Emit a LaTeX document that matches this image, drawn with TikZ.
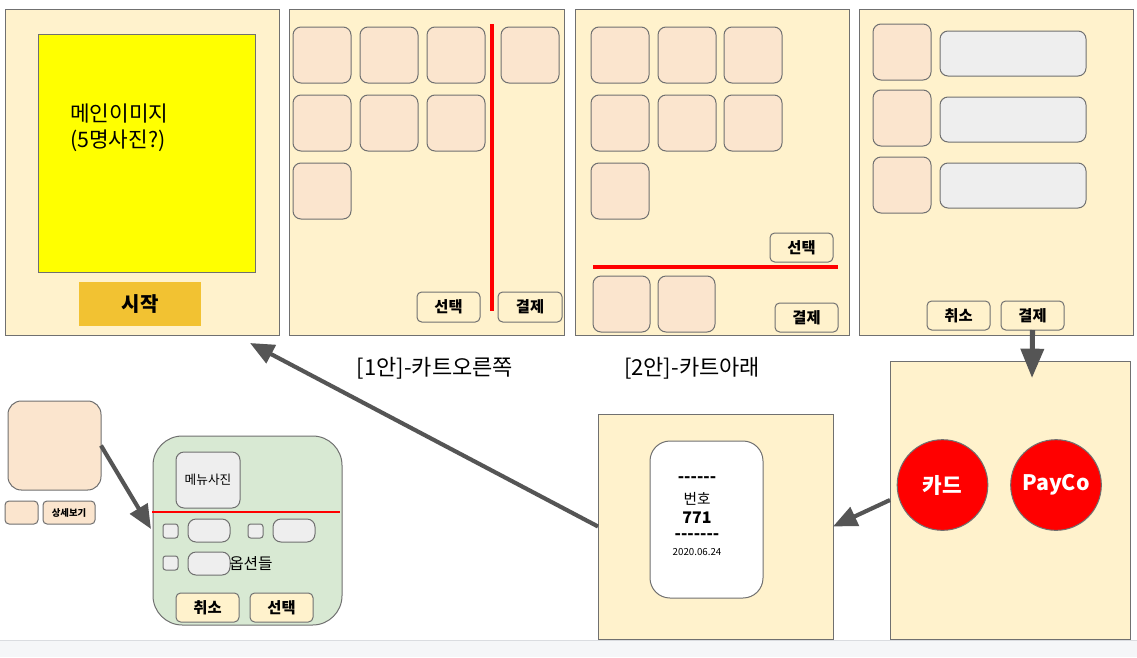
\documentclass[tikz,border=0pt]{standalone}
\usepackage{fontspec}
\setmainfont{Noto Sans CJK KR}
\usetikzlibrary{arrows.meta}
\definecolor{panel}{HTML}{FFF2CC}
\definecolor{tilef}{HTML}{FBE5CE}
\definecolor{graybox}{HTML}{EEEEEE}
\definecolor{edge}{HTML}{707070}
\definecolor{startc}{HTML}{F2C232}
\definecolor{greenp}{HTML}{D8E9D3}
\definecolor{arrc}{HTML}{555555}
\definecolor{strip}{HTML}{F5F6F8}
\definecolor{stripline}{HTML}{DADCE0}
\definecolor{pureyellow}{HTML}{FFFF00}
\newcommand\bx[7]{\node[#1,minimum width={((#4)-(#2))*0.75pt},minimum height={((#5)-(#3))*0.75pt}] (#6) at ({((#2)+(#4))/2},{((#3)+(#5))/2}) {#7};}
\tikzset{
  base/.style={inner sep=0pt,outer sep=0pt,line width=0.75pt},
  panelbox/.style={base,draw=edge,fill=panel},
  yellowbox/.style={base,draw=edge,fill=pureyellow},
  startbox/.style={base,fill=startc,font=\fontsize{15}{18}\selectfont\bfseries},
  tilebox/.style={base,draw=edge,fill=tilef,rounded corners=6pt},
  bigtile/.style={base,draw=edge,fill=tilef,rounded corners=10pt},
  btnbox/.style={base,draw=edge,fill=panel,rounded corners=3.5pt,font=\fontsize{11.5}{14}\selectfont\bfseries},
  barbox/.style={base,draw=edge,fill=graybox,rounded corners=6pt},
  chk/.style={base,draw=edge,fill=graybox,rounded corners=2pt},
  smalltile/.style={base,draw=edge,fill=tilef,rounded corners=3pt},
  greenbox/.style={base,draw=edge,fill=greenp,rounded corners=22pt},
  whitebox/.style={base,draw=edge,fill=white,rounded corners=15pt},
  circ/.style={base,circle,draw=edge,fill=red,text=white,minimum size=68pt,font=\fontsize{16}{19}\selectfont\bfseries},
  redline/.style={draw=red,line width=2.5pt},
  arr/.style={draw=arrc,line width=3.1pt,-{Triangle[length=18pt,width=15pt]}},
  lbl/.style={inner sep=0pt,font=\fontsize{16.5}{19}\selectfont},
}
\begin{document}
\begin{tikzpicture}[x=0.75pt,y=-0.75pt]
\useasboundingbox (0,0) rectangle (1137,657);
\fill[white] (0,0) rectangle (1137,657);
\fill[strip] (0,640) rectangle (1137,657);
\draw[stripline] (0,640.5) -- (1137,640.5);

% Panel 1
\bx{panelbox}{5}{9}{279}{335}{p1}{}
\bx{yellowbox}{38}{34}{255}{272}{mainimg}{}
\node[inner sep=0pt,anchor=west,align=left,font=\fontsize{16}{19.5}\selectfont] (maintxt) at (70,128) {메인이미지\\(5명사진?)};
\bx{startbox}{79}{282}{201}{326}{start}{시작}

% Panel 2
\bx{panelbox}{289}{9}{564}{335}{p2}{}
\foreach \c/\xa in {1/293,2/360,3/427}{
  \foreach \r/\ya in {1/27,2/95}{
    \bx{tilebox}{\xa}{\ya}{\xa+58}{\ya+56}{p2t\c\r}{}
  }
}
\bx{tilebox}{293}{163}{351}{219}{p2t13}{}
\bx{tilebox}{501}{27}{559}{83}{p2cart}{}
\draw[redline] (492,24) -- (492,311);
\bx{btnbox}{417}{292}{480}{322}{p2sel}{선택}
\bx{btnbox}{498}{292}{562}{322}{p2pay}{결제}
\node[lbl] (lab1) at (435,368) {[1안]-카트오른쪽};

% Panel 3
\bx{panelbox}{575}{9}{849}{335}{p3}{}
\foreach \c/\xa in {1/591,2/658,3/724}{
  \foreach \r/\ya in {1/27,2/95}{
    \bx{tilebox}{\xa}{\ya}{\xa+58}{\ya+56}{p3t\c\r}{}
  }
}
\bx{tilebox}{591}{163}{649}{219}{p3t13}{}
\bx{btnbox}{770}{233}{833}{262}{p3sel}{선택}
\draw[redline] (593,267) -- (838,267);
\bx{tilebox}{593}{276}{650}{332}{p3c1}{}
\bx{tilebox}{658}{276}{715}{332}{p3c2}{}
\bx{btnbox}{775}{303}{838}{332}{p3pay}{결제}
\node[lbl] (lab2) at (692,368) {[2안]-카트아래};

% Panel 4
\bx{panelbox}{859}{9}{1133}{335}{p4}{}
\foreach \r/\ya/\yb in {1/24/31,2/90/97,3/157/163}{
  \bx{tilebox}{873}{\ya}{931}{\ya+56}{p4t\r}{}
  \bx{barbox}{940}{\yb}{1086}{\yb+45}{p4b\r}{}
}
\bx{btnbox}{927}{301}{990}{330}{p4can}{취소}
\bx{btnbox}{1001}{301}{1064}{330}{p4pay}{결제}

% Payment panel
\bx{panelbox}{890}{361}{1130}{639}{pay}{}
\node[circ] (card) at (942.5,485) {카드};
\node[circ] (payco) at (1056,485) {PayCo};

% Receipt panel
\bx{panelbox}{598}{414}{833}{639}{rcpt}{}
\bx{whitebox}{650}{441}{763}{598}{ticket}{}
\node[inner sep=0pt,font=\fontsize{12.5}{13}\selectfont\bfseries] (d1) at (697,480) {-{}-{}-{}-{}-{}-};
\node[inner sep=0pt,font=\fontsize{11}{13}\selectfont] (num) at (697,499) {번호};
\node[inner sep=0pt,font=\fontsize{12}{14}\selectfont\bfseries] (n771) at (697,518) {771};
\node[inner sep=0pt,font=\fontsize{12.5}{13}\selectfont\bfseries] (d2) at (697,537) {-{}-{}-{}-{}-{}-{}-};
\node[inner sep=0pt,font=\fontsize{7.3}{9}\selectfont] (date) at (697,552) {2020.06.24};

% Detail area
\bx{bigtile}{8}{401}{101}{490}{mtile}{}
\bx{smalltile}{5}{501}{38}{524}{mchk}{}
\bx{smalltile}{43}{501}{95}{524}{detail}{\fontsize{7}{8}\selectfont\bfseries 상세보기}
\bx{greenbox}{153}{436}{342}{625}{green}{}
\bx{barbox}{176}{452}{240}{508}{mphoto}{\fontsize{9.5}{11}\selectfont 메뉴사진}
\draw[redline,line width=1.8pt] (152,512) -- (340,512);
\bx{chk}{163}{524}{178}{538}{c1}{}
\bx{chk}{248}{524}{263}{538}{c2}{}
\bx{chk}{163}{556}{178}{570}{c3}{}
\bx{barbox}{188}{519}{230}{542}{o1}{}
\bx{barbox}{273}{519}{315}{542}{o2}{}
\bx{barbox}{188}{552}{230}{575}{o3}{}
\node[inner sep=0pt,anchor=west,font=\fontsize{11.8}{14}\selectfont] (opts) at (229,564) {옵션들};
\bx{btnbox}{176}{593}{239}{622}{gcan}{취소}
\bx{btnbox}{250}{593}{313}{622}{gsel}{선택}

% Connectors
\coordinate (gin) at (151,529);
\coordinate (p1tip) at (250,343);
\coordinate (paytip) at (1032,378);
\draw[arr] (mtile.east) -- (gin);
\draw[arr] (rcpt.west) -- (p1tip);
\draw[arr] (pay.west) -- (rcpt.east);
\draw[arr,line width=3.8pt,-{Triangle[length=22pt,width=17pt]}] (p4pay.south) -- (paytip);
\end{tikzpicture}
\end{document}
